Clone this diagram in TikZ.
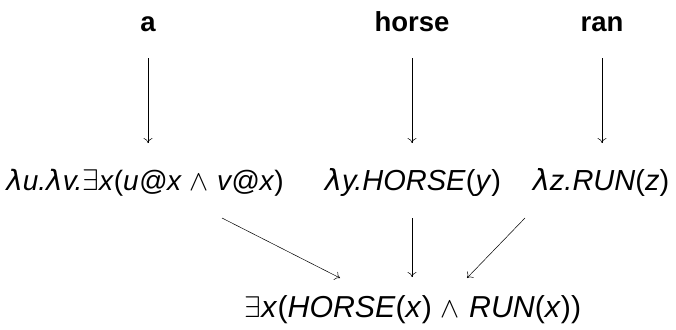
\documentclass[tikz,border=0pt]{standalone}
\usepackage{fontspec}
\usepackage{graphicx}
\setmainfont{Liberation Sans}
\newfontfamily\symf{DejaVu Sans}
\usetikzlibrary{calc,arrows.meta}
\newcommand{\lam}{{\symf\itshape λ}}
\newcommand{\ex}{\scalebox{1.2}{$\exists$}}
\newcommand{\wedg}{\hspace{0.3em}\scalebox{1.15}{$\wedge$}\hspace{0.3em}}
\newcommand{\lp}{\textup{(}}
\newcommand{\rp}{\textup{)}}
\begin{document}
\begin{tikzpicture}[x=1pt,y=-1pt,
  word/.style={font=\fontsize{27.5}{28}\selectfont\bfseries, anchor=base, inner sep=0pt},
  term/.style={font=\fontsize{29}{29}\selectfont\itshape, anchor=base, inner sep=0pt},
  arr/.style={-{To[length=5pt,width=9pt]}, line width=0.5pt}]
\useasboundingbox (0,0) rectangle (676,329);
\node[word] (a) at (148,32) {a};
\node[word] (horse) at (412,32) {horse};
\node[word] (ran) at (602,32) {ran};
\node[term, font=\fontsize{28}{28}\selectfont\itshape] (m1) at (145,190) {\lam u.\lam v.\ex x\lp u@x\wedg v@x\rp};
\node[term] (m2) at (413,190) {\lam y.HORSE\lp y\rp};
\node[term] (m3) at (601,190) {\lam z.RUN\lp z\rp};
\node[term, font=\fontsize{30.3}{30}\selectfont\itshape] (f) at (413,317) {\ex x\lp HORSE\lp x\rp\wedg RUN\lp x\rp\rp};
\draw[arr] ($(a.base)+(0,26)$) -- ($(a.base)+(0,111)$);
\draw[arr] ($(horse.base)+(0,26)$) -- ($(horse.base)+(0,111)$);
\draw[arr] ($(ran.base)+(0,26)$) -- ($(ran.base)+(0,111)$);
\draw[arr] ($(m1.base)+(77,28)$) -- ($(f.base)+(-73,-39)$);
\draw[arr] ($(m2.base)+(-1,28)$) -- ($(f.base)+(-1,-40)$);
\draw[arr] ($(m3.base)+(-76,28)$) -- ($(f.base)+(54,-39)$);
\end{tikzpicture}
\end{document}
